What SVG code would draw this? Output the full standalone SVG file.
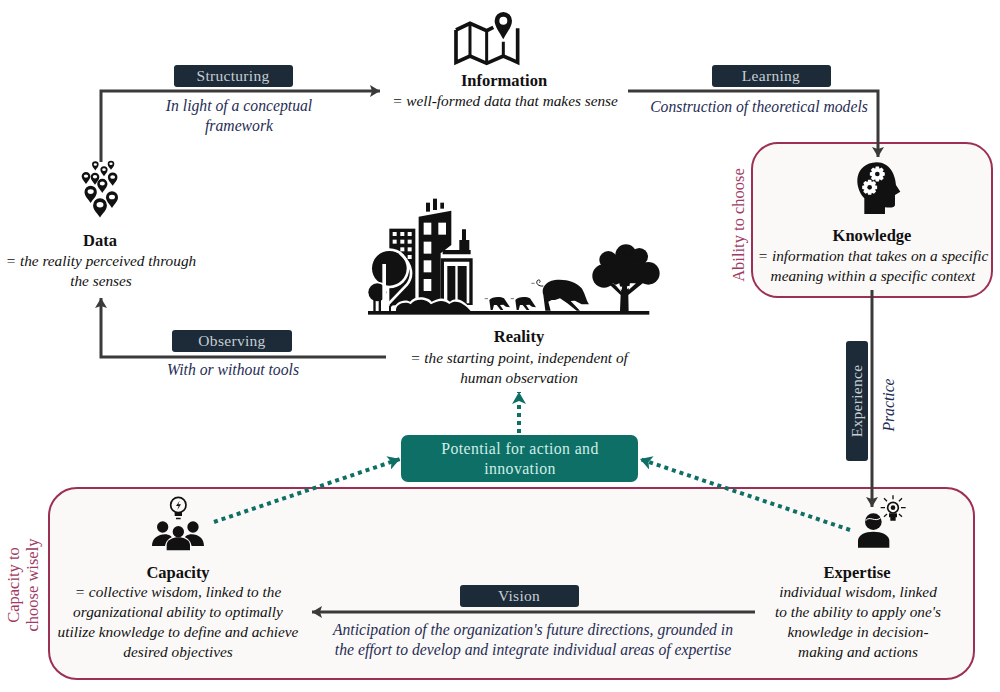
<svg xmlns="http://www.w3.org/2000/svg" width="1000" height="692" viewBox="0 0 1000 692">
<style>
text{font-family:"Liberation Serif","DejaVu Serif",serif;text-anchor:middle;font-size:15.3px;fill:#111}
.b{font-weight:bold;font-size:16.500px}
.d{font-style:italic}
.n{font-style:italic;fill:#1f2d55;font-size:15.700px}
.p{fill:#c4ced4;font-size:15.500px;letter-spacing:.3px}
.m{fill:#a03a62;font-size:16.5px}
.q{fill:#cfeee7;letter-spacing:.4px;font-size:15.800px}
.pill{fill:#1d2a38}
.box{fill:#fbf9f7;stroke:#9c2f55;stroke-width:2}
.c{fill:none;stroke:#3a3a3a;stroke-width:3}
.t{fill:none;stroke:#0e6f66;stroke-width:4;stroke-dasharray:4 4}
.w{fill:#fff}
</style>
<defs>
<marker id="a" markerUnits="userSpaceOnUse" markerWidth="12" markerHeight="12" refX="10" refY="6" orient="auto"><path d="M0,0L10,6L0,12L2,6Z" fill="#3a3a3a"/></marker>
<marker id="g" markerUnits="userSpaceOnUse" markerWidth="14" markerHeight="14" refX="12" refY="7" orient="auto"><path d="M0,0L12,7L0,14L3,7Z" fill="#0e6f66"/></marker>
<path id="pin" d="M0,14C-4,8-9,4-9,-2A9,9 0 0 1 9,-2C9,4 4,8 0,14ZM0,-6A4.500,3.500 0 0 0 0,1A4.500,3.500 0 0 0 0,-6Z" fill="#111" fill-rule="evenodd"/>
<path id="gear" d="M-3,-14H3L4,-10L8,-12L12,-8L10,-4L14,-3V3L10,4L12,8L8,12L4,10L3,14H-3L-4,10L-8,12L-12,8L-10,4L-14,3V-3L-10,-4L-12,-8L-8,-12L-4,-10Z"/>
<path id="piglet" d="M32,120L28,90C35,80 60,78 72,85L90,112L78,110L70,104L60,105L70,120H62L50,105L42,105L38,120Z" fill="#111"/>
</defs>

<g id="knowledge-box"><rect class="box" x="752" y="143" width="240" height="154" rx="26"/></g>
<g id="bottom-box"><rect class="box" x="49" y="488" width="925" height="191" rx="28"/></g>

<g id="connectors">
<path class="c" d="M101,162V91H380" marker-end="url(#a)"/>
<path class="c" d="M628,91H878V157" marker-end="url(#a)"/>
<path class="c" d="M386,357H101V298" marker-end="url(#a)"/>
<path class="c" d="M872,290V507" marker-end="url(#a)"/>
<path class="c" d="M755,612H312" marker-end="url(#a)"/>
<path class="t" d="M519,433V392" marker-end="url(#g)"/>
<path class="t" d="M214,522L400,459" marker-end="url(#g)"/>
<path class="t" d="M850,530L640,459" marker-end="url(#g)"/>
</g>

<g id="structuring"><rect class="pill" x="174" y="65" width="119" height="22" rx="3"/><text class="p" x="233" y="81">Structuring</text>
<text class="n" x="239" y="111">In light of  a conceptual</text><text class="n" x="239" y="131">framework</text></g>
<g id="learning"><rect class="pill" x="712" y="65" width="119" height="22" rx="3"/><text class="p" x="771" y="81">Learning</text>
<text class="n" x="759" y="112">Construction of  theoretical models</text></g>
<g id="observing"><rect class="pill" x="172" y="330" width="120" height="22" rx="3"/><text class="p" x="232" y="346">Observing</text>
<text class="n" x="233" y="375">With or without tools</text></g>
<g id="experience"><rect class="pill" x="846" y="341" width="22" height="120" rx="3"/><text class="p" transform="translate(862,401) rotate(-90)">Experience</text>
<text class="n" transform="translate(894,405) rotate(-90)">Practice</text></g>
<g id="vision"><rect class="pill" x="460" y="585" width="119" height="22" rx="3"/><text class="p" x="519" y="601">Vision</text>
<text class="n" x="533" y="635">Anticipation of  the organization's future directions, grounded in</text>
<text class="n" x="533" y="655">the effort to develop and integrate individual areas of  expertise</text></g>
<g id="ability"><text class="m" transform="translate(744,225) rotate(-90)">Ability to choose</text></g>
<g id="wisely"><text class="m" transform="translate(19,585) rotate(-90)">Capacity to</text><text class="m" transform="translate(38,585) rotate(-90)">choose wisely</text></g>

<g id="information">
<g transform="translate(350,0) scale(.3333)">
<path d="M318,90L360,70L410,92L430,82M318,90V187L360,168L410,190L460,168L503,187V85" fill="none" stroke="#111" stroke-width="11"/>
<path d="M360,70V168M410,92V190M460,125V168" fill="none" stroke="#111" stroke-width="9"/>
<path d="M460,118C448,95 434,80 434,62A26,26 0 0 1 486,62C486,80 472,95 460,118ZM460,50A12,12 0 1 0 460,74A12,12 0 1 0 460,50Z" fill="#111" fill-rule="evenodd"/>
</g>
<text class="b" x="504" y="86">Information</text>
<text class="d" x="505" y="106">= well-formed data that makes sense</text>
</g>

<g id="data">
<g transform="translate(60,150) scale(.3333)">
<use href="#pin" transform="translate(106,46) scale(1.1)"/><use href="#pin" transform="translate(153,44) scale(1.1)"/><use href="#pin" transform="translate(132,62) scale(1.2)"/>
<use href="#pin" transform="translate(78,82) scale(1.45)"/><use href="#pin" transform="translate(105,84) scale(1.45)"/><use href="#pin" transform="translate(158,85) scale(1.6)"/>
<use href="#pin" transform="translate(127,105) scale(1.7)"/><use href="#pin" transform="translate(92,130) scale(2.05)"/><use href="#pin" transform="translate(156,146) scale(2)"/><use href="#pin" transform="translate(120,170) scale(2.3)"/>
</g>
<text class="b" x="100" y="246">Data</text>
<text class="d" x="101" y="266">= the reality perceived through</text>
<text class="d" x="101" y="286">the senses</text>
</g>

<g id="knowledge">
<g transform="translate(720,130) scale(.3333)">
<path d="M433,252V205C400,170 402,100 470,97C510,97 526,135 528,165L541,185L525,195V225Q525,235 495,232V252Z" fill="#111"/>
<use href="#gear" transform="translate(472,132) scale(1.6)" class="w"/><circle cx="472" cy="132" r="7" fill="#111"/>
<use href="#gear" transform="translate(449,172) scale(1.6)" class="w"/><circle cx="449" cy="172" r="7" fill="#111"/>
</g>
<text class="b" x="872" y="241">Knowledge</text>
<text class="d" x="873" y="261">= information that takes on a specific</text>
<text class="d" x="873" y="281">meaning within a specific context</text>
</g>

<g id="reality">
<g transform="translate(350,190) scale(.3333)">
<rect x="54" y="363" width="844" height="11" fill="#111"/>
<rect x="228" y="38" width="12" height="27" fill="#111"/><rect x="249" y="26" width="12" height="34" fill="#111"/><rect x="271" y="38" width="11" height="18" fill="#111"/>
<rect x="118" y="116" width="78" height="230" fill="#111"/>
<g class="w"><rect x="128" y="126" width="12" height="12"/><rect x="151" y="126" width="12" height="12"/><rect x="173" y="126" width="12" height="12"/><rect x="128" y="149" width="12" height="12"/><rect x="151" y="149" width="12" height="12"/><rect x="173" y="149" width="12" height="12"/><rect x="151" y="172" width="12" height="12"/><rect x="173" y="172" width="12" height="12"/><rect x="173" y="195" width="12" height="12"/></g>
<path d="M206,80L304,62V165L272,190V340H206Z" fill="#111"/>
<g class="w"><rect x="221" y="98" width="23" height="36"/><rect x="265" y="98" width="23" height="36"/><rect x="221" y="155" width="23" height="36"/><rect x="221" y="211" width="23" height="36"/><rect x="221" y="267" width="23" height="36"/></g>
<path d="M336,118H348V150H358V180H362V193H278V180H328V150H336Z" fill="#111"/>
<path d="M272,205H368V345H272Z" fill="#111"/>
<path d="M282,215H358V340H350V228H292V340H282Z" class="w"/>
<path d="M316,228H323V340H316Z" class="w"/>
<circle cx="118" cy="235" r="60" class="w"/><circle cx="118" cy="235" r="52" fill="#111"/>
<circle cx="82" cy="307" r="32" class="w"/><circle cx="82" cy="307" r="27" fill="#111"/>
<rect x="97" y="222" width="11" height="141" class="w"/>
<path d="M70,320h7v43h-7zM86,320h7v43h-7z" fill="#111"/>
<path d="M112,363V345L170,285C190,260 190,225 150,190" fill="none" stroke="#fff" stroke-width="8"/>
<path d="M120,363V350L160,310" fill="none" stroke="#111" stroke-width="6"/>
<path d="M132,363C130,335 165,325 180,335C195,315 235,320 245,335C265,325 280,320 300,335C325,315 350,340 368,363Z" fill="#fff"/>
<path d="M138,363C136,342 165,332 182,343C197,322 232,327 243,343C262,332 280,328 298,342C322,325 345,345 362,363Z" fill="#111"/>
<g fill="#111">
<circle cx="828" cy="195" r="32"/><circle cx="775" cy="210" r="27"/><circle cx="868" cy="200" r="26"/><circle cx="762" cy="258" r="35"/><circle cx="895" cy="250" r="34"/><circle cx="820" cy="240" r="50"/><circle cx="850" cy="250" r="40"/>
<path d="M810,363L812,315L780,285L790,280L815,300L820,270L828,270L832,298L875,270L880,278L835,315L836,363Z"/>
</g>
<path d="M796,285L814,305L808,280ZM840,280L858,280L836,300Z" class="w"/>
</g>
<g transform="translate(480,270) scale(.3333)">
<use href="#piglet"/><use href="#piglet" x="78"/>
<path d="M196,122L190,75C183,55 195,35 225,30C255,26 290,35 305,55C315,70 318,90 327,103L305,103L285,92L272,93L300,122H290L262,100L240,85L225,90L215,90L205,95L212,122Z" fill="#111"/>
<path d="M190,48C176,50 166,40 172,32C178,26 184,34 178,38" fill="none" stroke="#111" stroke-width="3"/>
<path d="M154,40H164M14,86H24M92,86H102" stroke="#777" stroke-width="3"/>
</g>
<text class="b" x="519" y="342">Reality</text>
<text class="d" x="519" y="363">= the starting point, independent of</text>
<text class="d" x="519" y="383">human observation</text>
</g>

<g id="potential">
<rect x="401" y="435" width="237" height="47" rx="7" fill="#0e6f66"/>
<text class="q" x="520" y="454">Potential for action and</text>
<text class="q" x="520" y="474">innovation</text>
</g>

<g id="capacity">
<g transform="translate(130,480) scale(.3333)" fill="#111">
<circle cx="145" cy="75" r="23" fill="none" stroke="#111" stroke-width="5"/>
<path d="M134,96H156V108H134ZM138,113H152V118H138Z"/><path d="M149,62L138,78H146L142,90L153,73H145Z"/>
<circle cx="98" cy="141" r="17"/><circle cx="189" cy="141" r="17"/><circle cx="145" cy="155" r="17"/>
<path d="M66,198C66,175 85,163 105,163C118,163 125,170 125,172C113,178 108,185 105,198Z"/>
<path d="M222,198C222,175 205,163 185,163C172,163 165,170 165,172C177,178 182,185 185,198Z"/>
<path d="M110,211V195C110,180 130,172 145,172C160,172 180,180 180,195V211Z"/>
</g>
<text class="b" x="178" y="578">Capacity</text>
<text class="d" x="178" y="597">= collective wisdom, linked to the</text>
<text class="d" x="178" y="617">organizational ability to optimally</text>
<text class="d" x="178" y="637">utilize knowledge to define and achieve</text>
<text class="d" x="178" y="657">desired objectives</text>
</g>

<g id="expertise">
<g transform="translate(820,470) scale(.3333)" fill="#111">
<circle cx="160" cy="155" r="25"/>
<path d="M137,152C150,135 165,160 184,142" fill="none" stroke="#fff" stroke-width="3"/>
<path d="M114,233V212C114,195 135,185 160,185C185,185 208,195 208,212V233Z"/>
<circle cx="219" cy="113" r="16" fill="none" stroke="#111" stroke-width="5"/><circle cx="219" cy="113" r="7"/>
<path d="M209,132H229V140H209ZM213,144H225V150H213ZM182,113H195M243,113H257M192,85L201,94M246,85L237,94M192,140L201,132M246,140L237,132M219,76V88" stroke="#111" stroke-width="4"/>
</g>
<text class="b" x="857" y="578">Expertise</text>
<text class="d" x="858" y="597">individual wisdom, linked</text>
<text class="d" x="858" y="617">to the ability to apply one's</text>
<text class="d" x="858" y="637">knowledge in decision-</text>
<text class="d" x="858" y="657">making and actions</text>
</g>
</svg>
